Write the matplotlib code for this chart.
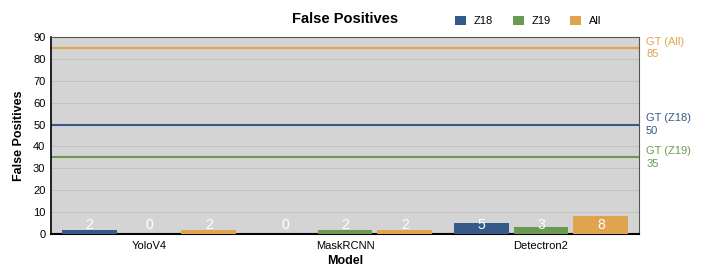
import matplotlib.pyplot as plt
import numpy as np

plt.rcParams['font.family'] = ['Liberation Sans', 'DejaVu Sans']

models = ["YoloV4", "MaskRCNN", "Detectron2"]
series_names = ["Z18", "Z19", "All"]
fp_z18 = [2, 0, 5]
fp_z19 = [0, 2, 3]
fp_all = [2, 2, 8]
gt_names = ["GT (All)", "GT (Z18)", "GT (Z19)"]
gt_values = [85, 50, 35]

colors = ["#36598a", "#6a9a51", "#e0a34e"]
gt_colors = ["#e0a34e", "#36598a", "#6a9a51"]

fig = plt.figure(figsize=(7.03, 2.67), dpi=100)
ax = fig.add_axes([0.0725, 0.124, 0.8365, 0.737])
ax.set_facecolor("#d4d4d4")

x = np.arange(len(models))
bar_width = 0.28
offset = 0.305

for i, (name, vals) in enumerate(zip(series_names, [fp_z18, fp_z19, fp_all])):
    pos = x + (i - 1) * offset
    ax.bar(pos, vals, width=bar_width, color=colors[i], label=name, zorder=3)
    for p, v in zip(pos, vals):
        ax.text(p, 4.2, str(v), ha="center", va="center", color="white",
                fontsize=10, zorder=4)

for name, val, c in zip(gt_names, gt_values, gt_colors):
    ax.axhline(val, color=c, linewidth=1.5, zorder=2)
    ax.text(1.012, val, f"{name}\n{val}", transform=ax.get_yaxis_transform(),
            ha="left", va="center", color=c, fontsize=8, linespacing=1.3)

ax.set_xlim(-0.5, 2.5)
ax.set_ylim(0, 90)
ax.set_yticks(range(0, 91, 10))
ax.set_xticks(x)
ax.set_xticklabels(models)
ax.tick_params(length=0, labelsize=8, pad=4)
ax.tick_params(axis="x", pad=5)
ax.grid(axis="y", color="#c2c2c2", linewidth=0.8, zorder=1)
ax.set_axisbelow(True)

for side in ["top", "right"]:
    ax.spines[side].set_color("#555555")
    ax.spines[side].set_linewidth(0.8)
ax.spines["left"].set_linewidth(1.2)
ax.spines["bottom"].set_linewidth(1.5)

ax.set_xlabel("Model", fontweight="bold", fontsize=9, labelpad=3)
ax.set_ylabel("False Positives", fontweight="bold", fontsize=9, labelpad=6)
fig.text(0.491, 0.93, "False Positives", ha="center", va="center",
         fontweight="bold", fontsize=10.5)

ax.legend(loc="lower left", bbox_to_anchor=(0.687, 1.055), ncol=3, frameon=False,
          fontsize=8, handlelength=1.0, handleheight=1.0, columnspacing=1.75,
          handletextpad=0.7, borderaxespad=0, borderpad=0)

fig.savefig("out.png", dpi=100)
